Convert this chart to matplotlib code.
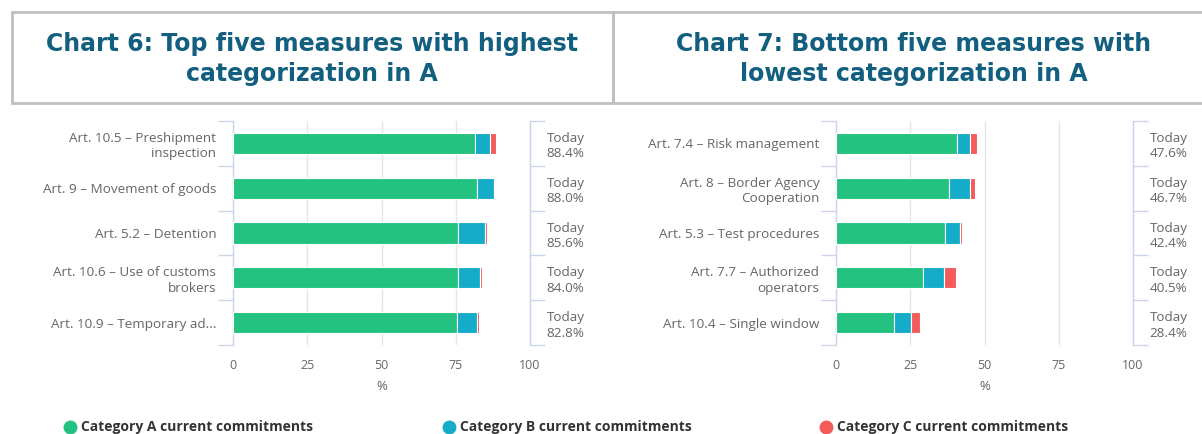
import numpy as np
import matplotlib.pyplot as plt
from matplotlib.patches import Rectangle
from matplotlib.lines import Line2D

# chart 6 - top five
top_labels = ['Art. 10.5 – Preshipment\ninspection', 'Art. 9 – Movement of goods',
              'Art. 5.2 – Detention', 'Art. 10.6 – Use of customs\nbrokers',
              'Art. 10.9 – Temporary ad...']
top_a = [81.6, 82.0, 75.7, 75.7, 75.5]
top_b = [4.8, 6.0, 9.0, 7.3, 6.5]
top_c = [2.0, 0.0, 0.9, 1.0, 0.8]
top_total = ['88.4%', '88.0%', '85.6%', '84.0%', '82.8%']

# chart 7 - bottom five
bot_labels = ['Art. 7.4 – Risk management', 'Art. 8 – Border Agency\nCooperation',
              'Art. 5.3 – Test procedures', 'Art. 7.7 – Authorized\noperators',
              'Art. 10.4 – Single window']
bot_a = [40.7, 38.0, 36.6, 29.3, 19.4]
bot_b = [4.5, 7.0, 5.0, 6.9, 5.7]
bot_c = [2.4, 1.7, 0.8, 4.3, 3.3]
bot_total = ['47.6%', '46.7%', '42.4%', '40.5%', '28.4%']

xticks = [0, 25, 50, 75, 100]
series_names = ['Category A current commitments', 'Category B current commitments',
                'Category C current commitments']
colors = ['#24c281', '#14acc9', '#f45b5b']

titles = ['Chart 6: Top five measures with highest\ncategorization in A',
          'Chart 7: Bottom five measures with\nlowest categorization in A']

AXIS = '#ccd6eb'
GRID = '#e6e6e6'
LABEL = '#666666'
TITLE = '#135f80'

plt.rcParams['font.family'] = ['Open Sans', 'DejaVu Sans']

fig = plt.figure(figsize=(12.02, 4.34), dpi=100)


def draw(ax, labels, a, b, c, totals):
    n = len(labels)
    y = np.arange(n)
    left = np.zeros(n)
    for vals, col in zip([a, b, c], colors):
        ax.barh(y, vals, left=left, height=0.47, color=col, edgecolor='white',
                linewidth=0.8, zorder=3)
        left = left + np.array(vals)
    ax.set_xlim(0, 100)
    ax.set_ylim(n - 0.5, -0.5)
    ax.set_xticks(xticks)
    ax.set_xticklabels([str(t) for t in xticks])
    ax.tick_params(axis='x', length=0, pad=10, labelsize=9, labelcolor=LABEL)
    ax.xaxis.grid(True, color=GRID, linewidth=1, zorder=0)
    ax.set_xlabel('%', color=LABEL, fontsize=9.5, labelpad=6)
    for s in ['top', 'bottom']:
        ax.spines[s].set_visible(False)
    for s in ['left', 'right']:
        ax.spines[s].set_color(AXIS)
        ax.spines[s].set_linewidth(1)
    # category boundaries as ticks, labels on minor ticks
    bounds = np.arange(n + 1) - 0.5
    ax.set_yticks(bounds)
    ax.set_yticklabels([])
    ax.tick_params(axis='y', which='major', length=11, color=AXIS, width=1)
    ax.set_yticks(y, minor=True)
    ax.set_yticklabels(labels, minor=True, ha='right')
    ax.tick_params(axis='y', which='minor', length=0, pad=12, labelsize=9.7,
                   labelcolor=LABEL)
    for t in ax.get_yticklabels(minor=True):
        t.set_linespacing(1.25)

    ax2 = ax.twinx()
    ax2.set_ylim(ax.get_ylim())
    for s in ['top', 'bottom', 'left']:
        ax2.spines[s].set_visible(False)
    ax2.spines['right'].set_color(AXIS)
    ax2.set_yticks(bounds)
    ax2.set_yticklabels([])
    ax2.tick_params(axis='y', which='major', length=11, color=AXIS, width=1)
    ax2.set_yticks(y, minor=True)
    ax2.set_yticklabels(['Today\n' + t for t in totals], minor=True, ha='left')
    ax2.tick_params(axis='y', which='minor', length=0, pad=12, labelsize=9.7,
                    labelcolor=LABEL)
    for t in ax2.get_yticklabels(minor=True):
        t.set_linespacing(1.25)


ax1 = fig.add_axes([233 / 1202, 1 - 345 / 434, 297 / 1202, 224 / 434])
draw(ax1, top_labels, top_a, top_b, top_c, top_total)
ax2 = fig.add_axes([836 / 1202, 1 - 345 / 434, 297 / 1202, 224 / 434])
draw(ax2, bot_labels, bot_a, bot_b, bot_c, bot_total)

# header boxes
W, H = 1202, 434
box_kw = dict(transform=fig.transFigure, fill=False, edgecolor='#c0c0c0', linewidth=2)
fig.patches.append(Rectangle((12 / W, 1 - 103 / H), (613 - 12) / W, 91 / H, **box_kw))
fig.patches.append(Rectangle((613 / W, 1 - 103 / H), (1210 - 613) / W, 91 / H, **box_kw))
fig.text(312 / W, 1 - 59 / H, titles[0], ha='center', va='center', fontsize=17,
         fontweight='bold', color=TITLE, family='DejaVu Sans', linespacing=1.3)
fig.text(914 / W, 1 - 59 / H, titles[1], ha='center', va='center', fontsize=17,
         fontweight='bold', color=TITLE, family='DejaVu Sans', linespacing=1.3)

# legend
leg_x = [70, 449, 826]
for xx, name, col in zip(leg_x, series_names, colors):
    fig.add_artist(Line2D([xx / W], [1 - 427 / H], marker='o', markersize=9,
                          color=col, linestyle='none', transform=fig.transFigure))
    fig.text((xx + 11) / W, 1 - 427 / H, name, ha='left', va='center',
             fontsize=10, fontweight='bold', color='#333333')

plt.savefig('out.png', dpi=100)
plt.close()
